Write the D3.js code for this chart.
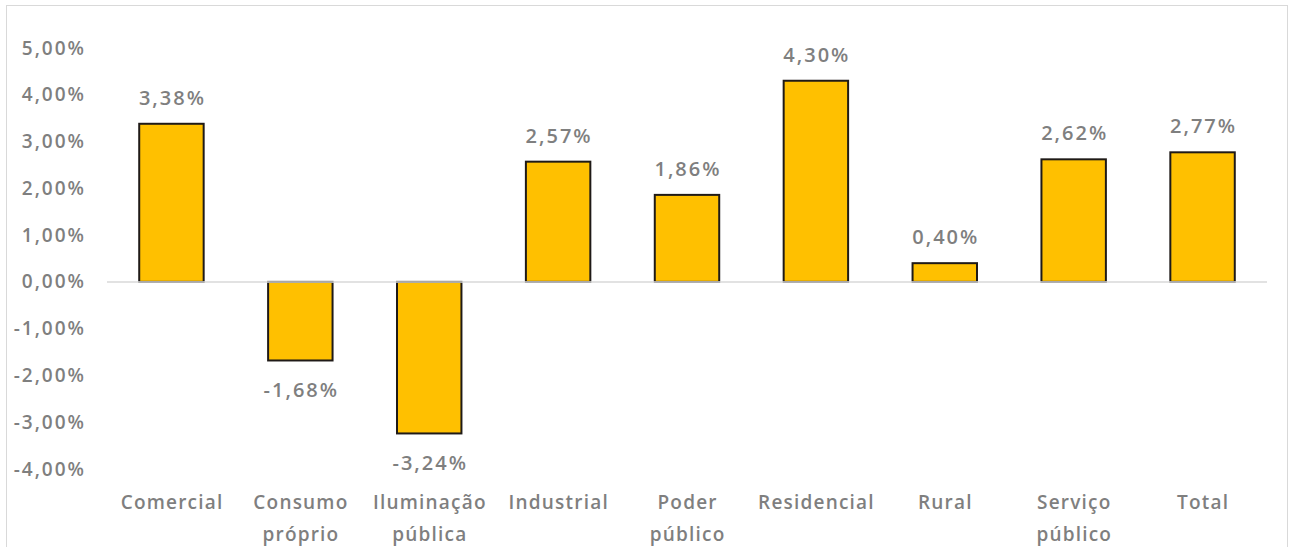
<!DOCTYPE html>
<html><head><meta charset="utf-8">
<script src="https://cdn.jsdelivr.net/npm/d3@7"></script>
<style>html,body{margin:0;padding:0;background:#fff;}svg{display:block;}</style>
</head><body>
<svg id="c" width="1292" height="547"></svg>
<script>
const categories = [["Comercial"],["Consumo","próprio"],["Iluminação","pública"],["Industrial"],["Poder","público"],["Residencial"],["Rural"],["Serviço","público"],["Total"]];
const values = [3.38, -1.68, -3.24, 2.57, 1.86, 4.30, 0.40, 2.62, 2.77];
const yTicks = [5, 4, 3, 2, 1, 0, -1, -2, -3, -4];

const svg = d3.select("#c");
const font = "'Open Sans', sans-serif";
const gray = "#7f7f7f";
svg.append("rect").attr("x",6.5).attr("y",5.5).attr("width",1281).attr("height",560)
  .attr("fill","#fff").attr("stroke","#d9d9d9").attr("stroke-width",1);

const x = d3.scaleBand().domain(d3.range(categories.length)).range([107,1267]).paddingInner(0.5).paddingOuter(0.25);
const y = d3.scaleLinear().domain([-4,5]).range([469,48]);

const fmt = v => v.toFixed(2).replace(".", ",") + "%";

// y axis labels
const yAxis = d3.axisLeft(y).tickValues(yTicks).tickFormat(fmt).tickSize(0).tickPadding(0);
const ga = svg.append("g").attr("transform","translate(86,0)").call(yAxis);
ga.select(".domain").remove();
ga.selectAll("text").attr("font-family",font).attr("font-size",19).attr("font-weight",600)
  .attr("letter-spacing","2px").attr("fill",gray);

// bars
svg.append("g").selectAll("rect").data(values).join("rect")
  .attr("x",(d,i)=>x(i)).attr("width",x.bandwidth())
  .attr("y",d=>y(Math.max(0,d))).attr("height",d=>Math.abs(y(d)-y(0)))
  .attr("fill","#ffc000").attr("stroke","#1f1a17").attr("stroke-width",2);

// zero line
svg.append("line").attr("x1",107).attr("x2",1267).attr("y1",y(0)).attr("y2",y(0))
  .attr("stroke","#d9d9d9").attr("stroke-width",1.5);

// value labels
svg.append("g").selectAll("text").data(values).join("text")
  .attr("x",(d,i)=>x(i)+x.bandwidth()/2 + 1)
  .attr("y",d=> d>=0 ? y(d)-19 : y(d)+37)
  .attr("text-anchor","middle").attr("font-family",font).attr("font-size",20).attr("font-weight",600)
  .attr("letter-spacing","2px").attr("fill",gray).text(fmt);

// category labels
const gc = svg.append("g");
categories.forEach((lines,i)=>{
  const cx = x(i)+x.bandwidth()/2 + 0.6;
  const t = gc.append("text").attr("x",cx).attr("y",509)
    .attr("text-anchor","middle").attr("font-family",font).attr("font-size",19).attr("font-weight",600)
    .attr("letter-spacing","1.2px").attr("fill",gray);
  lines.forEach((l,j)=>t.append("tspan").attr("x",cx).attr("dy",j?32:0).text(l));
});
</script>
</body></html>
